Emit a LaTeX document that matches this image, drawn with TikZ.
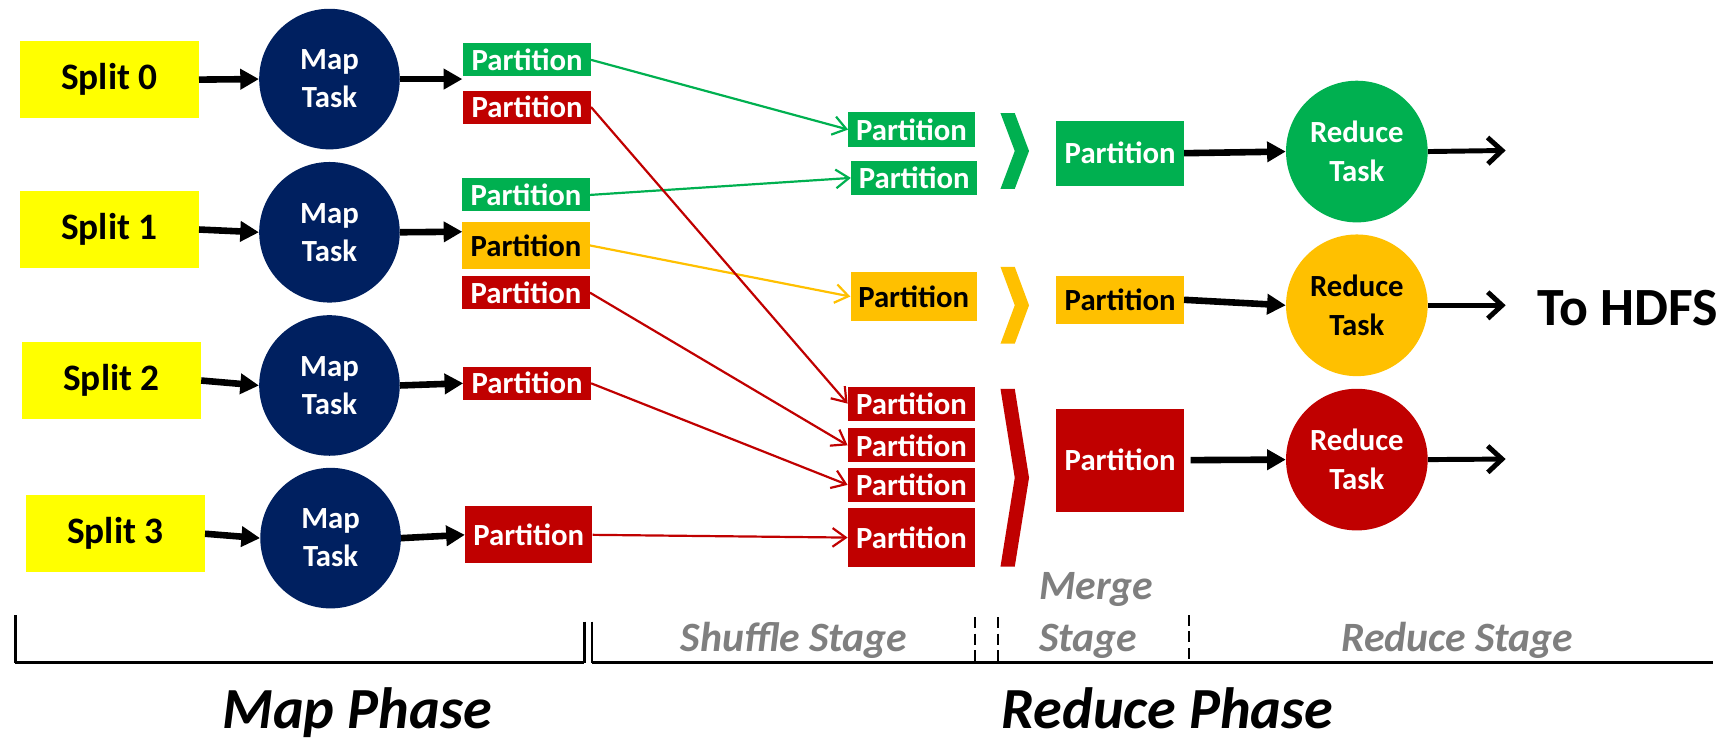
\documentclass[tikz,border=0pt]{standalone}
\usepackage{fontspec}
\setmainfont{Carlito}
\usetikzlibrary{arrows.meta}
\definecolor{cyel}{HTML}{FFFF00}
\definecolor{cnavy}{HTML}{002060}
\definecolor{cgreen}{HTML}{00B050}
\definecolor{cred}{HTML}{C00000}
\definecolor{corange}{HTML}{FFC000}
\definecolor{cgray}{HTML}{7F7F7F}
\tikzset{
 splitbox/.style={fill=cyel, minimum width=163pt, minimum height=70pt, inner sep=0pt, font=\fontsize{34}{40}\selectfont\bfseries},
 mapnode/.style={circle, fill=cnavy, text=white, minimum size=128pt, inner sep=0pt, align=center, font=\fontsize{28}{34.6}\selectfont\bfseries},
 redtask/.style={circle, minimum size=129pt, inner sep=0pt, align=center, font=\fontsize{28}{35.5}\selectfont\bfseries},
 part/.style={minimum width=116pt, minimum height=30pt, inner sep=0pt, font=\fontsize{28}{34}\selectfont\bfseries},
 pgreen/.style={part, fill=cgreen, text=white},
 pred/.style={part, fill=cred, text=white},
 porange/.style={part, fill=corange, text=black},
 fatarrow/.style={line width=6pt, -{Triangle[length=17pt,width=18pt]}},
 outarrow/.style={line width=4.5pt, -{Straight Barb[length=13pt,width=24pt]}},
 shuf/.style={line width=2pt, -{Straight Barb[length=12pt,width=17pt]}},
 stagelbl/.style={text=cgray, font=\fontsize{38}{47}\selectfont\bfseries\itshape, inner sep=0pt},
 phaselbl/.style={font=\fontsize{53}{60}\selectfont\bfseries\itshape, inner sep=0pt},
 bracket/.style={line width=3pt},
 stagedash/.style={line width=2pt, dash pattern=on 10pt off 5pt},
}
\begin{document}
\begin{tikzpicture}[x=1pt,y=-1pt]
\useasboundingbox (0,0) rectangle (1568,676);
% splits
\node[splitbox] (S0) at (99.5,72.5) {Split 0};
\node[splitbox] (S1) at (99.5,209) {Split 1};
\node[splitbox] (S2) at (101.5,346.5) {Split 2};
\node[splitbox] (S3) at (105,486) {Split 3};
% map tasks
\node[mapnode] (M0) at (300,72) {Map\\Task};
\node[mapnode] (M1) at (300,211.5) {Map\\Task};
\node[mapnode] (M2) at (300,351) {Map\\Task};
\node[mapnode] (M3) at (301,490) {Map\\Task};
% map output partitions
\node[pgreen] (P0g) at (480,54.5) {Partition};
\node[pred] (P0r) at (480,97.5) {Partition};
\node[pgreen] (P1g) at (479,177.5) {Partition};
\node[porange, minimum height=43pt] (P1y) at (479,223.5) {Partition};
\node[pred] (P1r) at (479,266.5) {Partition};
\node[pred] (P2r) at (480,349) {Partition};
\node[pred, minimum height=52pt] (P3r) at (481.5,487) {Partition};
% shuffled partitions
\node[pgreen, minimum width=115pt, minimum height=32pt] (Sg1) at (830,118) {Partition};
\node[pgreen, minimum width=115pt, minimum height=31pt] (Sg2) at (832.5,162) {Partition};
\node[porange, minimum width=115pt, minimum height=44pt] (Sy) at (832,270) {Partition};
\node[pred, minimum width=116pt, minimum height=31pt] (Sr1) at (830,367.5) {Partition};
\node[pred, minimum width=116pt, minimum height=31pt] (Sr2) at (830,405.5) {Partition};
\node[pred, minimum width=116pt, minimum height=31pt] (Sr3) at (830,441.5) {Partition};
\node[pred, minimum width=116pt, minimum height=53pt] (Sr4) at (830,489.5) {Partition};
% merged partitions
\node[pgreen, minimum height=59pt] (Mg) at (1020,139.5) {Partition};
\node[porange, minimum height=44pt] (My) at (1020,273) {Partition};
\node[pred, minimum height=94pt] (Mr) at (1020,419) {Partition};
% reduce tasks
\node[redtask, fill=cgreen, text=white] (Rg) at (1235.5,138) {Reduce\\Task};
\node[redtask, fill=corange, text=black] (Ry) at (1235.5,278) {Reduce\\Task};
\node[redtask, fill=cred, text=white] (Rr) at (1235.5,418.5) {Reduce\\Task};
\node[font=\fontsize{49}{55}\selectfont\bfseries, inner sep=0pt, anchor=base west] (hdfs) at (1400,296) {To HDFS};
% chevrons
\fill[cgreen] (911,103) -- (924,103) -- (937,137.5) -- (924,172) -- (911,172) -- (924,137.5) -- cycle;
\fill[corange] (911,243) -- (924,243) -- (937,278) -- (924,313) -- (911,313) -- (924,278) -- cycle;
\fill[cred] (911,354) -- (924,354) -- (937,435) -- (924,516) -- (911,516) -- (924,435) -- cycle;
% coordinates
\coordinate (e0) at (421,72);
\coordinate (e1) at (421,211);
\coordinate (og) at (1371,137);
\coordinate (oy) at (1371,278);
\coordinate (or) at (1371,418);
% map arrows
\draw[fatarrow] (S0.east) -- (M0.west);
\draw[fatarrow] (S1.east) -- (M1.west);
\draw[fatarrow] (S2.east) -- (M2.west);
\draw[fatarrow] (S3.east) -- (M3.west);
\draw[fatarrow] (M0.east) -- (e0);
\draw[fatarrow] (M1.east) -- (e1);
\draw[fatarrow] (M2.east) -- (P2r.west);
\draw[fatarrow] (M3.east) -- (P3r.west);
% shuffle
\draw[shuf, cgreen] (P0g.east) -- (Sg1.west);
\draw[shuf, cgreen] (P1g.east) -- (Sg2.west);
\draw[shuf, corange] (P1y.east) -- (Sy.west);
\draw[shuf, cred] (P0r.east) -- (Sr1.west);
\draw[shuf, cred] (P1r.east) -- (Sr2.west);
\draw[shuf, cred] (P2r.east) -- (Sr3.west);
\draw[shuf, cred] (P3r.east) -- (Sr4.west);
% reduce arrows
\draw[fatarrow] (Mg.east) -- (Rg.west);
\draw[fatarrow] (My.east) -- (Ry.west);
\draw[fatarrow, shorten <=6pt] (Mr.east) -- (Rr.west);
\draw[outarrow] (Rg.east) -- (og);
\draw[outarrow] (Ry.east) -- (oy);
\draw[outarrow] (Rr.east) -- (or);
% bottom brackets
\draw[line width=2.5pt] (14,560) -- (14,604);
\draw[bracket] (14,603) -- (532,603);
\draw[line width=2.5pt] (532,566) -- (532,604);
\draw[line width=2.5pt] (539,566) -- (539,604);
\draw[bracket] (539,603) -- (1560,603);
\draw[stagedash] (888,562) -- (888,603);
\draw[stagedash] (909,562) -- (909,603);
\draw[stagedash] (1083,560) -- (1083,603);
% labels
\node[stagelbl, anchor=base] (lshuf) at (723,593) {Shuffle Stage};
\node[stagelbl, anchor=base west] (lmerge1) at (946,546) {Merge};
\node[stagelbl, anchor=base west] (lmerge2) at (946,593) {Stage};
\node[stagelbl, anchor=base] (lred) at (1327,593) {Reduce Stage};
\node[phaselbl, anchor=base] (lmap) at (325,663) {Map Phase};
\node[phaselbl, anchor=base] (lredp) at (1063,663) {Reduce Phase};
\end{tikzpicture}
\end{document}
